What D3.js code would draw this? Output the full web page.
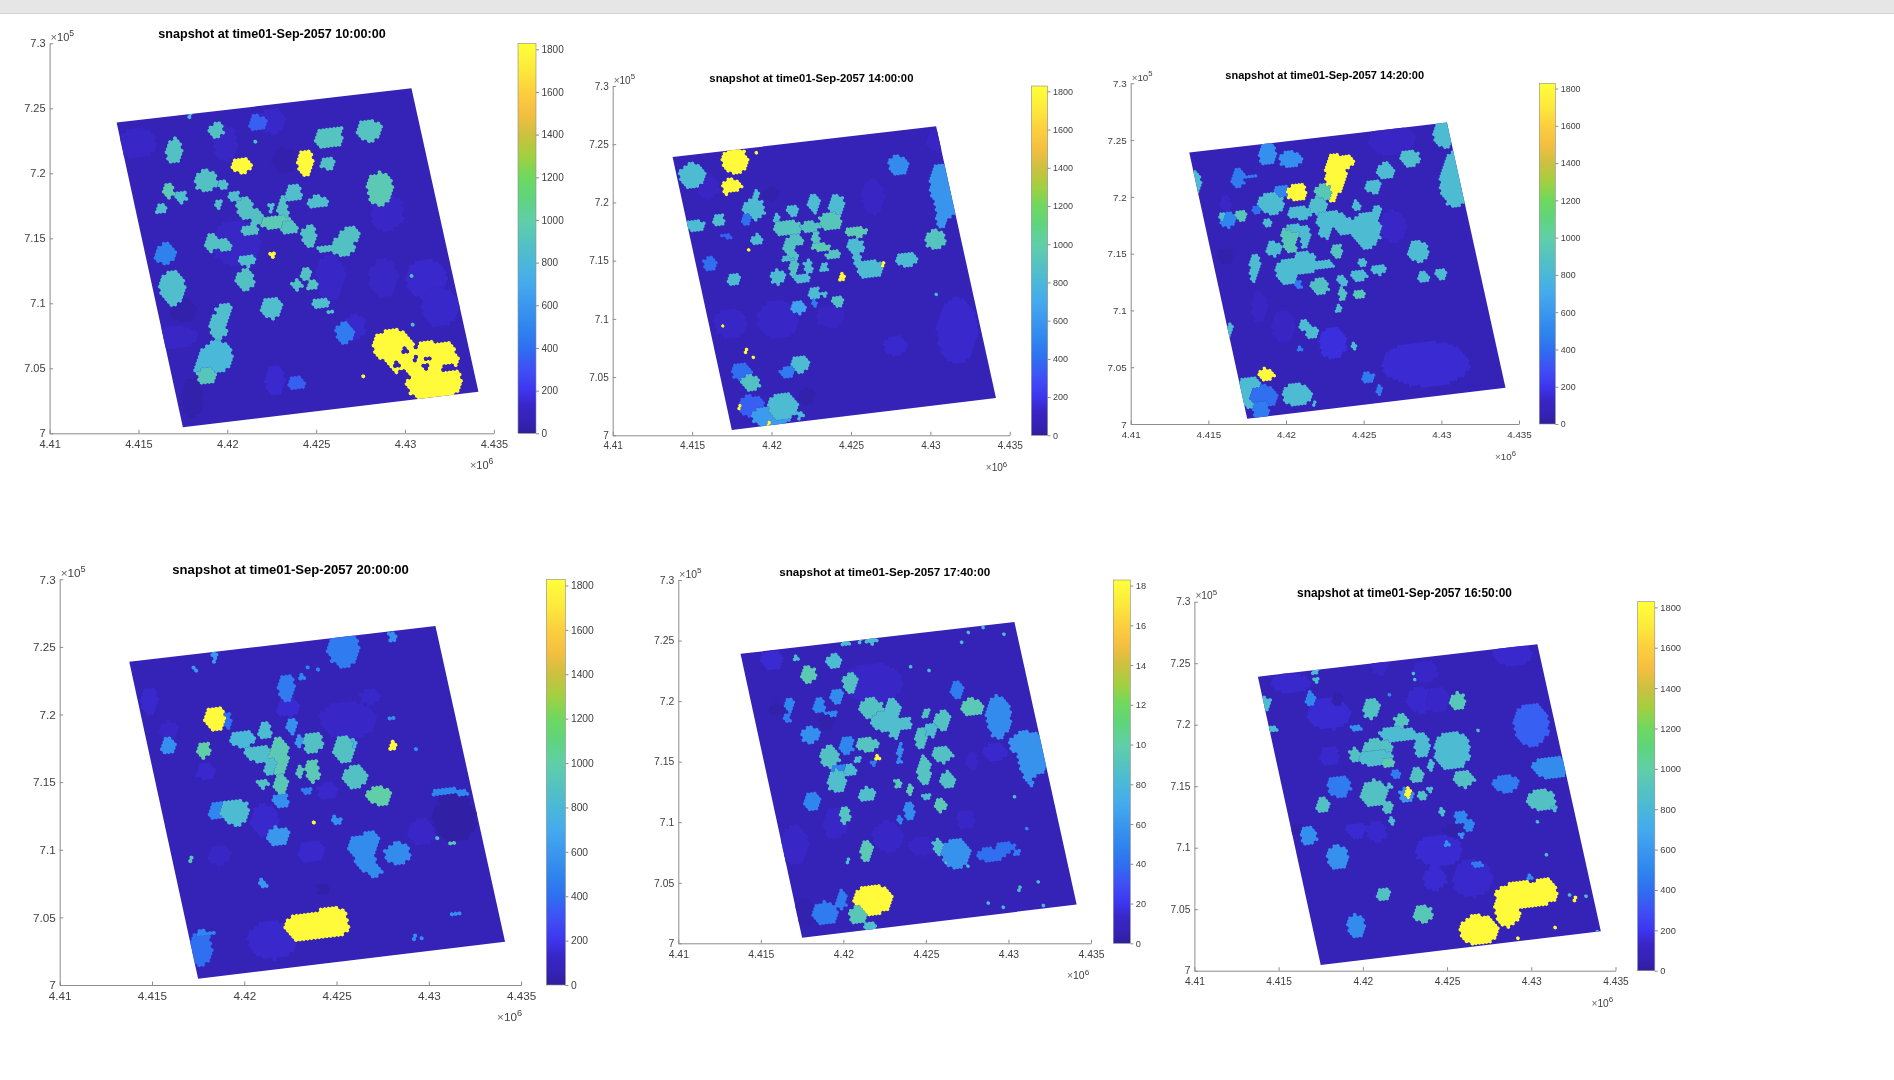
<!DOCTYPE html>
<html>
<head>
<meta charset="utf-8">
<script src="https://cdn.jsdelivr.net/npm/d3@7"></script>
<style>
  html, body { margin: 0; background: #fff; }
  svg { display: block; filter: blur(0.5px); }
  text { font-family: "Liberation Sans", Arial, sans-serif; fill: #404040; }
</style>
</head>
<body>
<svg id="chart" width="1894" height="1080"></svg>
<script>
//
// Data. x in km (x 1e3 m), y in km.
// Each region row: value, centre x, centre y, half width, half height
//

const xTicks = [4410, 4415, 4420, 4425, 4430, 4435]
const yTicks = [700, 705, 710, 715, 720, 725, 730]
const barTicks = [0, 200, 400, 600, 800, 1000, 1200, 1400, 1600, 1800]
const barMax = 1828
const backgroundValue = 55
// corners of the modelled area: bottom-left, bottom-right, top-right, top-left
const areaCorners = [[4417.5, 700.46], [4434.13, 703.2], [4430.36, 726.54], [4413.77, 723.9]]

const parulaValues = [0, 55, 130, 200, 300, 400, 500, 600, 700, 800, 900, 1000, 1100, 1200, 1300, 1400, 1500, 1600, 1700, 1828]
const parulaColors = ['#2f1f9c', '#3522b6', '#3826c6', '#3d35ee', '#3f50f5', '#2f6ff0', '#2f86ee', '#3b97ee', '#45aaee', '#4ab8d8', '#55c3bf', '#60cfa8', '#5fd47e', '#6ed85f', '#a2d040', '#cdc040', '#f5bf40', '#fbcf3e', '#fde83c', '#ffff3a']

const titles = [
  'snapshot at time01-Sep-2057 10:00:00',
  'snapshot at time01-Sep-2057 14:00:00',
  'snapshot at time01-Sep-2057 14:20:00',
  'snapshot at time01-Sep-2057 20:00:00',
  'snapshot at time01-Sep-2057 17:40:00',
  'snapshot at time01-Sep-2057 16:50:00',
]

const regions1000 = [
  [130, 4414.9, 722.3, .9, 1], [135, 4422.5, 724, .7, .8], [125, 4419.9, 722.3, .6, 1.2], [130, 4429, 717, .8, 1.2],
  [125, 4428.8, 711.9, .7, 1.3], [140, 4431.2, 711.9, 1, 1.3], [135, 4432, 709.7, .9, 1.3], [140, 4427.2, 708.2, .5, .8],
  [130, 4425.8, 712, .7, 1.5], [125, 4420.5, 714.6, 1.2, 1.5], [125, 4416.9, 707.4, 1.2, .8], [145, 4422.7, 704, .5, 1],
  [30, 4418, 702.7, .5, 1.3], [30, 4417.5, 709.5, .6, .8], [35, 4423.2, 721, .6, .8],
  [350, 4421.7, 723.9, .45, .5], [880, 4419.4, 723.3, .35, .5], [900, 4425.7, 722.7, .7, .7], [900, 4426.3, 723.2, .15, .35],
  [900, 4428, 723.3, .6, .7], [880, 4417, 721.7, .37, .85], [1800, 4420.8, 720.6, .55, .5], [1800, 4424.4, 720.8, .4, .9],
  [880, 4425.6, 720.8, .35, .45], [950, 4428.6, 718.8, .65, 1.1], [880, 4418.8, 719.4, .55, .75], [850, 4419.8, 719.1, .25, .35],
  [950, 4416.7, 718.6, .27, .5], [850, 4417.4, 718.2, .3, .45], [850, 4416.3, 717.3, .32, .36], [850, 4419.5, 717.6, .18, .35],
  [850, 4420.4, 718.2, .28, .35], [850, 4423.7, 718.5, .4, .6], [850, 4425.1, 717.8, .55, .4], [880, 4421, 717.3, .4, .75],
  [880, 4421.6, 716.7, .3, .6], [880, 4421.3, 715.6, .4, .4], [850, 4422.5, 717.4, .17, .35], [880, 4423.1, 717.2, .27, 1],
  [950, 4422.8, 716.2, .8, .45], [900, 4423.5, 715.8, .45, .4], [880, 4424.6, 715.2, .37, .7], [880, 4426.5, 714.4, .6, .7],
  [880, 4426.9, 715.3, .45, .55], [880, 4425.5, 714.2, .35, .25], [880, 4419.1, 714.7, .33, .6], [880, 4419.8, 714.5, .4, .4],
  [480, 4416.5, 713.8, .5, .7], [850, 4421.1, 713.3, .42, .42], [1800, 4422.5, 713.7, .14, .3], [850, 4416.9, 711.2, .6, 1.15],
  [880, 4421, 711.8, .45, .7], [880, 4424.4, 712.3, .3, .4], [880, 4423.9, 711.4, .27, .33], [900, 4424.8, 711.4, .3, .35],
  [850, 4425.2, 710, .45, .35], [850, 4425.8, 709.3, .17, .17], [850, 4422.5, 709.6, .5, .7], [850, 4419.8, 709.4, .4, .5],
  [850, 4419.5, 708.2, .4, .95], [450, 4426.6, 707.7, .45, .7], [800, 4419.4, 705.9, .8, 1], [800, 4418.7, 705, .45, .9],
  [920, 4418.8, 704.4, .45, .55], [350, 4423.9, 703.9, .4, .5],
  [1800, 4429.3, 706.7, .95, 1.1], [1800, 4431, 705.6, 1.7, 1.3], [1800, 4431.6, 704.1, 1.35, 1.5], [1800, 4432.4, 706.4, .4, .5],
  [60, 4430, 706.4, .12, .2], [60, 4430.6, 706.7, .12, .25], [60, 4431.2, 705.8, .2, .12], [60, 4430.6, 705.7, .12, .2],
  [60, 4431.2, 705.1, .2, .12], [60, 4429.5, 705.3, .2, .15], [60, 4432.5, 705, .35, .2], [60, 4429.9, 704.4, .3, .35],
  [1800, 4427.6, 704.4, .1, .18], [850, 4430.4, 708.4, .09, .15], [850, 4430.3, 712.2, .07, .15], [800, 4417.9, 724.4, .09, .2], [850, 4421.6, 722.5, .09, .12],
]

const regions1400 = [
  [140, 4431.7, 709, 1.1, 2.4], [140, 4427.8, 707.7, .65, .7], [130, 4417.4, 709.6, .85, 1.1], [130, 4420.4, 709.9, 1.1, 1.4],
  [120, 4416, 721.3, .6, .9], [120, 4426.4, 720.5, .6, 1.3], [120, 4423.7, 710.2, .75, .85], [120, 4430.3, 725.3, .5, .8],
  [30, 4422.2, 703.3, .45, .6], [30, 4420, 720.7, .45, .45],
  [830, 4415, 722.3, .72, .92], [1800, 4417.7, 723.6, .7, .95], [1800, 4417.5, 721.5, .55, .45], [1800, 4417.1, 721, .15, .35],
  [1800, 4419, 724.2, .08, .14], [530, 4428, 723.2, .55, .7], [580, 4430.7, 721.6, .65, 1.5], [580, 4431, 719.8, .6, 1],
  [580, 4430.7, 718.7, .33, .7], [830, 4419, 720.6, .18, .4], [830, 4418.9, 719.4, .6, .8], [850, 4416.7, 718.5, .3, .5],
  [830, 4415.2, 718, .5, .5], [400, 4418.4, 718.5, .27, .4], [830, 4419.1, 716.8, .33, .4], [350, 4417.2, 717.1, .33, .17],
  [1800, 4418.5, 716, .16, .12], [400, 4416.1, 714.7, .35, .55], [830, 4417.6, 713.4, .35, .5],
  [830, 4421.3, 719.3, .33, .4], [830, 4422.7, 719.9, .33, .7], [830, 4424.1, 719.8, .45, .7], [920, 4423.7, 718.4, .62, .7],
  [830, 4420.3, 718.5, .18, .42], [900, 4421, 717.8, .75, .6], [880, 4421.5, 716.8, .4, .5], [880, 4421.1, 716.2, .33, .65],
  [880, 4422.4, 717.9, .55, .4], [900, 4422.8, 717, .2, .5], [880, 4421.4, 714.7, .25, 1], [830, 4422, 713.5, .42, .4],
  [830, 4422.3, 714.5, .25, .5], [950, 4423.1, 716.2, .5, .3], [900, 4423.9, 715.5, .4, .35], [830, 4423.3, 714.4, .22, .33],
  [830, 4420.4, 713.6, .42, .55], [830, 4421, 715.1, .3, .2], [950, 4425.3, 717.5, .6, .4], [830, 4425.3, 716.2, .45, .6],
  [830, 4425.4, 715.2, .22, .5], [830, 4426.2, 714.3, .72, .7], [1800, 4427, 714.6, .1, .25], [830, 4428.5, 715.1, .6, .55],
  [900, 4430.3, 716.8, .55, .7], [1800, 4424.4, 713.6, .16, .35], [830, 4422.7, 712.2, .32, .5], [830, 4423.4, 712.2, .17, .22],
  [880, 4424.2, 711.5, .33, .4], [650, 4421.7, 711, .37, .5], [450, 4422.7, 711.4, .17, .28], [830, 4430.3, 712.2, .07, .14],
  [1800, 4416.9, 709.5, .08, .16], [1800, 4418.4, 707.1, .1, .28], [1800, 4418.9, 706.6, .08, .15], [830, 4421.8, 706.1, .5, .6],
  [450, 4421, 705.4, .42, .45], [400, 4418.1, 705.5, .55, .65], [880, 4418.7, 704.5, .5, .6], [350, 4418.7, 702.5, .7, .8],
  [620, 4420, 701.6, 1.05, .85], [830, 4420.7, 702.5, .8, 1], [800, 4421.8, 701.7, .17, .28], [1800, 4419.8, 701.1, .09, .25], [1800, 4418, 702.4, .09, .17],
]

const regions1420 = [
  [150, 4429, 705.3, 2.4, 1.7], [170, 4423, 707.1, .75, 1.2], [130, 4426.9, 717.4, .75, 1.2], [120, 4426.8, 725, 1.3, 1.2],
  [30, 4416.1, 714.8, .4, .6], [120, 4418.3, 710.3, .45, 1.2], [120, 4419.8, 708.6, .65, 1.2], [130, 4416.1, 719.4, .3, .6],
  [830, 4430.2, 725.6, .6, 1.1], [830, 4430.9, 721.5, .85, 2.1], [550, 4418.8, 723.8, .5, .85], [550, 4420.3, 723.3, .65, .6],
  [450, 4416.9, 721.6, .37, .75], [450, 4417.7, 721.8, .37, .2], [830, 4414.2, 721.3, .3, .85], [1800, 4423.2, 722.1, .6, 1.5],
  [1800, 4422.9, 720.6, .3, 1], [1800, 4423.7, 723.1, .65, .5], [500, 4419.7, 720.5, .45, .5], [1800, 4420.7, 720.4, .55, .7],
  [930, 4422.4, 720.4, .45, .65], [830, 4425.6, 720.9, .47, .5], [830, 4426.4, 722.3, .5, .6], [850, 4428, 723.4, .55, .65],
  [830, 4419, 719.4, .75, .8], [400, 4418.1, 718.9, .22, .35], [920, 4417.1, 718.4, .32, .45], [500, 4416.3, 718, .45, .6],
  [830, 4415.9, 718.3, .2, .3], [830, 4418.8, 717.8, .22, .35], [830, 4420.9, 718.6, .65, .5], [850, 4422.1, 719.2, .5, .7],
  [830, 4422.9, 718, .8, .7], [830, 4423.9, 717.4, .6, .7], [830, 4425.2, 717.1, .8, 1.4], [830, 4424.5, 719.2, .25, .4],
  [830, 4425.9, 718.8, .27, .5], [830, 4422.5, 716.9, .4, .5], [930, 4420.3, 716.3, .5, 1.1], [830, 4421.2, 716.5, .3, .85],
  [830, 4420.7, 717.2, .6, .3], [100, 4420.8, 716, .15, .5], [830, 4419.2, 715.4, .45, .55], [830, 4418, 714.1, .3, .75],
  [830, 4417.9, 713, .22, .4], [830, 4420.1, 713.4, .65, 1], [830, 4421.2, 714.2, .65, .9], [830, 4422.4, 714, .6, .35],
  [900, 4423.3, 715.2, .3, .55], [830, 4424.9, 714.2, .25, .4], [830, 4426, 713.6, .4, .4], [830, 4424.7, 713.1, .5, .45],
  [830, 4423.6, 712.6, .27, .4], [830, 4428.5, 715.2, .6, .8], [830, 4428.8, 712.9, .33, .4], [830, 4430, 713.2, .33, .5],
  [450, 4420.8, 712.2, .22, .35], [880, 4422.2, 712.1, .5, .7], [880, 4423.6, 711.5, .22, .5], [930, 4424.7, 711.4, .33, .35],
  [830, 4423.4, 710.2, .18, .4], [830, 4421.2, 708.7, .32, .45], [830, 4421.7, 708, .32, .5], [830, 4424.4, 706.9, .16, .25],
  [450, 4420.9, 706.6, .17, .22], [830, 4416.4, 708.3, .15, .5], [830, 4417.6, 702.8, .75, 1.2], [400, 4418.6, 702.4, .75, .85],
  [450, 4418.4, 701.2, .45, .75], [1800, 4418.7, 704.4, .5, .45], [830, 4420.7, 702.6, .8, .85], [830, 4421.8, 701.7, .15, .22],
  [450, 4425.3, 704.1, .4, .4], [450, 4426, 703, .17, .35],
]

const regions2000 = [
  [140, 4421.5, 703.3, 1.1, 1.2], [140, 4414.9, 721, .4, .85], [130, 4425.6, 719.6, 1.3, 1.2], [150, 4422.4, 720.5, .55, .6],
  [135, 4426.8, 721.3, .45, .5], [130, 4429.6, 711.3, .65, .85], [130, 4418.7, 709.6, .55, .6], [140, 4423.6, 709.9, .6, .7],
  [25, 4424.3, 707.1, .32, .37], [140, 4417.9, 715.8, .45, .5], [130, 4415.9, 718.8, .45, .6], [140, 4421.1, 712.2, .65, 1],
  [140, 4424.5, 714.4, .45, .6], [20, 4431.4, 712.2, 1, 1.4],
  [450, 4425.4, 724.8, .75, 1.1], [600, 4418.4, 724.3, .17, .37], [550, 4428, 725.8, .17, .35], [600, 4417.3, 723.3, .09, .25],
  [450, 4422.3, 722, .4, .85], [500, 4423.1, 722.8, .14, .25], [500, 4423.5, 723.5, .08, .14], [500, 4423.9, 723.3, .07, .1],
  [400, 4419.1, 719.6, .15, .5], [1800, 4418.4, 719.7, .45, .8], [550, 4415.9, 717.7, .35, .55], [1000, 4417.8, 717.4, .33, .55],
  [800, 4419.9, 718.2, .6, .55], [830, 4421.1, 718.8, .33, .55], [550, 4422.6, 719.1, .25, .6], [600, 4423, 718, .2, .37],
  [880, 4423.7, 717.9, .45, .7], [880, 4425.4, 717.4, .5, .85], [800, 4426, 717.9, .15, .25], [1800, 4428, 717.7, .17, .28],
  [550, 4428, 719.7, .17, .17], [550, 4429.3, 717.5, .15, .12], [850, 4420.8, 717.1, .7, .5], [950, 4421.9, 716.9, .45, 1.2],
  [850, 4421.4, 716.1, .3, .6], [930, 4422, 714.9, .35, .6], [950, 4423.7, 715.8, .33, .75], [920, 4423, 715.8, .2, .35],
  [880, 4421, 714.9, .27, .3], [880, 4426, 715.4, .55, .75], [1000, 4427.3, 714, .6, .6], [550, 4422, 713.6, .37, .5],
  [450, 4423.4, 714.4, .2, .2], [500, 4431.1, 714.2, .85, .3], [20, 4431.3, 713.6, .75, .4], [930, 4431.3, 710.5, .15, .12], [850, 4430.5, 710.8, .09, .12],
  [500, 4418.5, 712.9, .37, .55], [830, 4419.5, 712.8, .7, .85], [550, 4425, 712.2, .22, .25], [1800, 4423.8, 712.1, .08, .13],
  [600, 4421.8, 711, .55, .6], [530, 4426.4, 710.2, .7, .75], [530, 4426.8, 710.7, .4, .6], [530, 4426.6, 709, .5, .5],
  [530, 4427.1, 708.4, .3, .35], [530, 4428.3, 709.7, .6, .7], [930, 4417.1, 709.2, .15, .25], [600, 4421, 707.5, .22, .27],
  [1800, 4423.9, 704.4, 1.5, .9], [1800, 4424.7, 704.8, .8, .9], [1800, 4423.3, 704.2, .9, .85], [550, 4431.5, 705.2, .33, .13],
  [550, 4429.2, 703.4, .15, .25], [550, 4429.6, 703.5, .06, .25], [400, 4417.6, 702.7, .55, 1.1], [500, 4417.9, 703.8, .5, .2],
]

const regions1740 = [
  [130, 4417, 708.1, .75, 1.4], [130, 4422.7, 708.8, .8, 1.1], [130, 4419.5, 709.9, .6, 1.1], [130, 4427.4, 710.2, .45, .7],
  [140, 4429.2, 715.8, .6, .7], [130, 4421.8, 721.5, 1.5, 1.4], [150, 4415.7, 723.4, .6, .7], [120, 4424.8, 708, .7, .7],
  [130, 4427.8, 715, .3, .7], [30, 4416, 719.3, .4, .4], [30, 4419, 718.3, .4, .55], [40, 4417.7, 702.5, .6, 1],
  [830, 4420.1, 724.8, .25, .25], [830, 4421, 724.9, .15, .22], [830, 4421.7, 725, .3, .25], [830, 4428.5, 726.1, .09, .17],
  [830, 4427.6, 725.6, .07, .12], [830, 4427.1, 724.8, .07, .12], [830, 4429.7, 725.5, .07, .12], [830, 4417.1, 723.6, .17, .25],
  [830, 4419.4, 723.3, .37, .5], [950, 4417.9, 722.2, .4, .6], [880, 4420.4, 721.5, .4, .7], [830, 4424, 722.9, .07, .12],
  [830, 4425.2, 722.6, .07, .09], [530, 4419.6, 720.4, .35, .5], [500, 4416.7, 719.7, .25, .5], [450, 4416.6, 718.6, .2, .33],
  [500, 4418.5, 719.6, .3, .55], [500, 4419.3, 719, .33, .2], [550, 4418, 717.2, .5, .55], [450, 4426.9, 720.9, .35, .7],
  [950, 4427.8, 719.5, .55, .65], [530, 4429.4, 718.7, .65, 1.5], [570, 4431.1, 716.5, .9, .85], [570, 4431.5, 715.1, .8, 1.1],
  [570, 4431.2, 714, .3, .55], [880, 4421.7, 719.4, .6, .7], [850, 4422.6, 718.3, .8, .7], [850, 4423, 719.4, .4, .7],
  [850, 4423.1, 717.5, .3, .5], [850, 4423.8, 718.2, .3, .5], [880, 4425, 719, .2, .35], [880, 4426, 718.4, .4, .7],
  [830, 4425.3, 717.6, .35, .5], [880, 4424.7, 716.9, .33, .7], [500, 4420.2, 716.4, .37, .65], [900, 4421.4, 716.4, .6, .5],
  [880, 4419.2, 715.4, .5, .75], [830, 4420.9, 715.1, .2, .22], [880, 4426, 715.6, .55, .6], [530, 4423.4, 715.7, .15, .8],
  [1800, 4422.1, 715.3, .14, .2], [450, 4421.8, 714.9, .25, .2], [500, 4419.8, 714.2, .45, .45], [830, 4420.4, 714.3, .3, .4],
  [850, 4419.6, 713.4, .5, .8], [900, 4424.9, 714.3, .35, 1], [880, 4426.3, 713.5, .4, .6], [930, 4423.3, 713.3, .22, .35],
  [950, 4424, 712.7, .17, .35], [850, 4421.4, 712.3, .45, .5], [830, 4425, 712.2, .25, .22], [500, 4418.1, 711.7, .42, .6],
  [950, 4425.9, 711.4, .27, .48], [530, 4424, 710.9, .27, .72], [500, 4423.4, 710.2, .17, .35], [900, 4420.1, 710.6, .3, .6],
  [950, 4421.4, 707.6, .35, .7], [570, 4426.8, 707.4, .75, 1.05], [850, 4425.7, 708, .27, .6], [850, 4426.2, 706.7, .12, .22],
  [830, 4427.5, 706.5, .07, .22], [400, 4428.9, 707.3, .75, .5], [400, 4429.8, 707.9, .55, .35], [450, 4430.5, 707.5, .2, .22],
  [550, 4431.4, 713.2, .16, .17], [830, 4430.3, 712.2, .07, .14], [500, 4431.1, 709.5, .07, .11], [830, 4420.3, 706.7, .12, .22],
  [830, 4430.7, 704.5, .07, .22], [830, 4431.7, 705.1, .07, .11], [830, 4428.8, 703.3, .09, .25], [830, 4429.7, 703.1, .08, .11], [830, 4432.2, 703.2, .07, .11],
  [1800, 4421.8, 703.6, 1, 1.05], [930, 4420.9, 702.3, .45, .65], [850, 4421.7, 701.4, .35, .35], [450, 4419.9, 703.6, .28, .7], [450, 4418.9, 702.5, .7, .8],
]

const regions1650 = [
  [150, 4418, 720.9, 1.1, 1.1], [140, 4415.7, 723.4, 1, .7], [140, 4423.4, 722, .7, .9], [130, 4424.5, 722, .6, .9],
  [130, 4421, 724.7, .4, .55], [140, 4428.9, 725.7, 1, .8], [130, 4423.7, 724.3, .6, .8], [140, 4418, 717.5, .5, .7],
  [150, 4424.5, 709.8, 1.2, 1.1], [150, 4424.3, 707.5, .6, .8], [140, 4426.5, 707.5, 1, 1.3], [140, 4420.8, 711.3, .5, .7],
  [150, 4419.6, 711.4, .5, .55], [30, 4416.2, 711.4, .4, .4], [30, 4418.5, 722.1, .3, .4], [30, 4425.4, 711.4, .5, .4],
  [830, 4417.2, 724.3, .17, .22], [830, 4417.2, 723.6, .15, .25], [830, 4423.1, 724.2, .08, .16], [830, 4423.1, 723.8, .08, .14], [500, 4421.6, 722.5, .07, .11],
  [500, 4416.9, 722.1, .25, .55], [830, 4414.2, 721.7, .3, .5], [830, 4414.6, 719.6, .25, .22], [880, 4420.5, 721.3, .45, .7],
  [930, 4425.6, 721.9, .45, .6], [350, 4430, 720, .9, 1.5], [530, 4431.2, 716.5, .95, .8], [900, 4422.3, 720.3, .37, .45],
  [830, 4422.1, 719.2, 1, .5], [830, 4423.5, 718.3, .4, .85], [880, 4420.9, 718.2, .8, .55], [850, 4420.8, 717.3, .9, .6],
  [950, 4421.5, 716.9, .4, .4], [880, 4419.5, 717.5, .28, .5], [830, 4425.3, 717.9, .9, 1.35], [550, 4419.6, 719.7, .25, .27],
  [830, 4424, 716.7, .17, .37], [450, 4422, 716, .25, .27], [880, 4423.2, 715.9, .35, .55], [880, 4426, 715.6, .55, .6],
  [450, 4428.5, 715.2, .65, .6], [450, 4418.6, 715, .6, .75], [880, 4420.7, 714.4, .7, .95], [880, 4421.5, 713.3, .3, .5],
  [850, 4421.6, 715, .17, .22], [600, 4422.6, 714.3, .38, .55], [1800, 4422.7, 714.4, .17, .4], [880, 4423.5, 714.2, .27, .35],
  [830, 4424, 714.7, .17, .22], [880, 4430.6, 713.9, .7, .75], [830, 4431.4, 713.1, .17, .27], [880, 4417.6, 713.4, .35, .55],
  [830, 4421.7, 712.2, .17, .27], [830, 4424.7, 712.9, .18, .28], [500, 4425.8, 712.5, .3, .5], [500, 4426.3, 711.8, .3, .5],
  [550, 4416.8, 711, .42, .7], [560, 4418.5, 709.2, .55, .85], [550, 4425, 710.3, .2, .25], [550, 4425.8, 711, .15, .16],
  [450, 4426.8, 708.6, .25, .27], [830, 4430.9, 709.5, .07, .14], [800, 4430.3, 712.2, .07, .14], [830, 4426.9, 719.6, .07, .14],
  [530, 4429.9, 707.6, .15, .16], [880, 4421.2, 706.2, .37, .5], [930, 4423.6, 704.6, .5, .6], [530, 4419.6, 703.6, .45, .85],
  [1800, 4426.9, 703.3, 1, 1.05], [1800, 4428.6, 705.2, .65, 1.4], [1800, 4429.7, 706.2, 1.6, .9], [1800, 4430.8, 706.7, .55, .75],
  [1800, 4432.6, 705.8, .1, .22], [1800, 4431.5, 703.5, .09, .22], [1800, 4429.2, 702.8, .07, .14],
  [830, 4432.3, 706.1, .07, .11], [830, 4433.3, 706, .07, .11], [830, 4433.9, 703.2, .07, .14],
]

const panelRegions = [regions1000, regions1400, regions1420, regions2000, regions1740, regions1650]

//
// Layout
//

// axes box and colorbar box in page pixels, title centre and sizes
const panelBoxes = [
  { left: 49.6, right: 493.9, top: 43.3, bottom: 433.3, barLeft: 518, barRight: 536, titleX: 272, titleY: 38, titleSize: 12.6, tickSize: 11, barSize: 10 },
  { left: 612.7, right: 1009.8, top: 86, bottom: 435.3, barLeft: 1031.4, barRight: 1047.6, titleX: 811.4, titleY: 82, titleSize: 11.3, tickSize: 10, barSize: 9 },
  { left: 1130.7, right: 1519, top: 83.3, bottom: 424, barLeft: 1539.3, barRight: 1555.3, titleX: 1324.7, titleY: 79, titleSize: 11, tickSize: 9.8, barSize: 8.9 },
  { left: 59.7, right: 521.1, top: 579.3, bottom: 985, barLeft: 546.4, barRight: 565.4, titleX: 290.6, titleY: 574, titleSize: 13.1, tickSize: 11.7, barSize: 10.3 },
  { left: 678.3, right: 1091, top: 580, bottom: 943.3, barLeft: 1113.3, barRight: 1130.3, titleX: 884.7, titleY: 575.7, titleSize: 11.7, tickSize: 10.4, barSize: 9.2 },
  { left: 1194.4, right: 1615.5, top: 601.7, bottom: 970.7, barLeft: 1637.6, barRight: 1654.8, titleX: 1404.5, titleY: 596.7, titleSize: 11.9, tickSize: 10.2, barSize: 9.3 },
]

const meshCols = 80
const meshRows = 96
// blobs read a little tight, the mesh eats their rims
const regionReach = 1.4
const lineColor = '#8c8c8c'

const svg = d3.select('#chart')
const color = d3.scaleLinear().domain(parulaValues).range(parulaColors).clamp(true)

// window bar of the screenshot
svg.append('rect').attr('width', 1894).attr('height', 13).attr('fill', '#e6e6e6')
svg.append('rect').attr('y', 13).attr('width', 1894).attr('height', 1).attr('fill', '#d4d4d4')

// colorbar gradient is shared by all panels
const gradient = svg.append('defs').append('linearGradient')
  .attr('id', 'parula').attr('x1', 0).attr('x2', 0).attr('y1', 1).attr('y2', 0)
gradient.selectAll('stop').data(parulaValues).join('stop')
  .attr('offset', d => d / barMax)
  .attr('stop-color', d => color(d))

//
// Functions
//

// sample the regions on a hex mesh laid along the edges of the area
function meshCells(regions) {
  const [bl, br, , tl] = areaCorners
  const nodes = []
  for (let j = 0; j <= meshRows; j++) {
    for (let i = 0; i <= meshCols; i++) {
      const fi = (i + (j % 2) * 0.5) / meshCols
      const fj = j / meshRows
      nodes.push({
        x: bl[0] + (br[0] - bl[0]) * fi + (tl[0] - bl[0]) * fj,
        y: bl[1] + (br[1] - bl[1]) * fi + (tl[1] - bl[1]) * fj,
        value: null,
      })
    }
  }
  regions.forEach(r => {
    const reach = n => ((n.x - r[1]) / r[3]) ** 2 + ((n.y - r[2]) / r[4]) ** 2
    const inside = nodes.filter(n => reach(n) <= regionReach)
    // a speck smaller than the mesh still takes its nearest cell
    const hit = inside.length ? inside : [d3.least(nodes, reach)]
    hit.forEach(n => { n.value = r[0] })
  })
  return nodes.filter(n => n.value !== null)
}

// one path per value, each cell a small hexagon in data space
function cellsPath(cells, xScale, yScale) {
  const [bl, br, , tl] = areaCorners
  const ux = (br[0] - bl[0]) / meshCols, uy = (br[1] - bl[1]) / meshCols
  const vx = (tl[0] - bl[0]) / meshRows, vy = (tl[1] - bl[1]) / meshRows
  const hex = [[0, -2 / 3], [0.5, -1 / 3], [0.5, 1 / 3], [0, 2 / 3], [-0.5, 1 / 3], [-0.5, -1 / 3]]
  const path = d3.path()
  cells.forEach(c => {
    hex.forEach((h, k) => {
      const px = xScale(c.x + ux * h[0] + vx * h[1])
      const py = yScale(c.y + uy * h[0] + vy * h[1])
      if (k === 0) path.moveTo(px, py)
      else path.lineTo(px, py)
    })
    path.closePath()
  })
  return path.toString()
}

function styleAxis(g, size) {
  g.selectAll('path.domain').attr('stroke', lineColor)
  g.selectAll('line').attr('stroke', lineColor)
  g.selectAll('text').attr('font-size', size).attr('fill', '#404040')
    .attr('font-family', '"Liberation Sans", Arial, sans-serif')
}

function exponentLabel(g, x, y, power, size) {
  const t = g.append('text').attr('x', x).attr('y', y).attr('font-size', size)
  t.append('tspan').attr('fill', '#666').text('×')
  t.append('tspan').text('10')
  t.append('tspan').attr('dy', -size * 0.45).attr('font-size', size * 0.78).text(power)
}

function drawPanel(regions, box, title, index) {
  const g = svg.append('g')
  const xScale = d3.scaleLinear().domain([4410, 4435]).range([box.left, box.right])
  const yScale = d3.scaleLinear().domain([700, 730]).range([box.bottom, box.top])

  const outline = d3.line().x(d => xScale(d[0])).y(d => yScale(d[1])).curve(d3.curveLinearClosed)
  const clipId = `area-${index}`
  g.append('clipPath').attr('id', clipId).append('path').attr('d', outline(areaCorners))
  g.append('path').attr('d', outline(areaCorners)).attr('fill', color(backgroundValue))

  const byValue = d3.group(meshCells(regions), d => d.value)
  g.append('g').attr('clip-path', `url(#${clipId})`)
    .selectAll('path').data(Array.from(byValue)).join('path')
    .attr('d', d => cellsPath(d[1], xScale, yScale))
    .attr('fill', d => color(d[0]))

  const xAxis = d3.axisBottom(xScale).tickValues(xTicks)
    .tickFormat(d => String(d / 1000))
    .tickSizeInner(-3.5).tickSizeOuter(0).tickPadding(7)
  const yAxis = d3.axisLeft(yScale).tickValues(yTicks)
    .tickFormat(d => String(d / 100))
    .tickSizeInner(-3.5).tickSizeOuter(0).tickPadding(4)
  g.append('g').attr('transform', `translate(0,${box.bottom})`).call(xAxis).call(styleAxis, box.tickSize)
  g.append('g').attr('transform', `translate(${box.left},0)`).call(yAxis).call(styleAxis, box.tickSize)

  exponentLabel(g, box.left + 1, box.top - 2.5, '5', box.tickSize)
  exponentLabel(g, box.right - 24, box.bottom + 36, '6', box.tickSize)

  g.append('text').attr('x', box.titleX).attr('y', box.titleY)
    .attr('text-anchor', 'middle').attr('font-weight', 'bold')
    .attr('font-size', box.titleSize).style('fill', '#000').text(title)

  // colorbar; the 17:40 panel has its labels cut off at two digits by the window edge
  const barScale = d3.scaleLinear().domain([0, barMax]).range([box.bottom, box.top])
  g.append('rect').attr('x', box.barLeft).attr('y', box.top)
    .attr('width', box.barRight - box.barLeft).attr('height', box.bottom - box.top)
    .attr('fill', 'url(#parula)').attr('stroke', lineColor).attr('stroke-width', 0.6)
  const barAxis = d3.axisRight(barScale).tickValues(barTicks)
    .tickFormat(d => (index === 4 ? String(d).slice(0, 2) : String(d)))
    .tickSizeInner(3).tickSizeOuter(0).tickPadding(2.5)
  const barG = g.append('g').attr('transform', `translate(${box.barRight},0)`).call(barAxis).call(styleAxis, box.barSize)
  barG.selectAll('path.domain').remove()
}

panelBoxes.forEach((box, i) => drawPanel(panelRegions[i], box, titles[i], i))
</script>
</body>
</html>
